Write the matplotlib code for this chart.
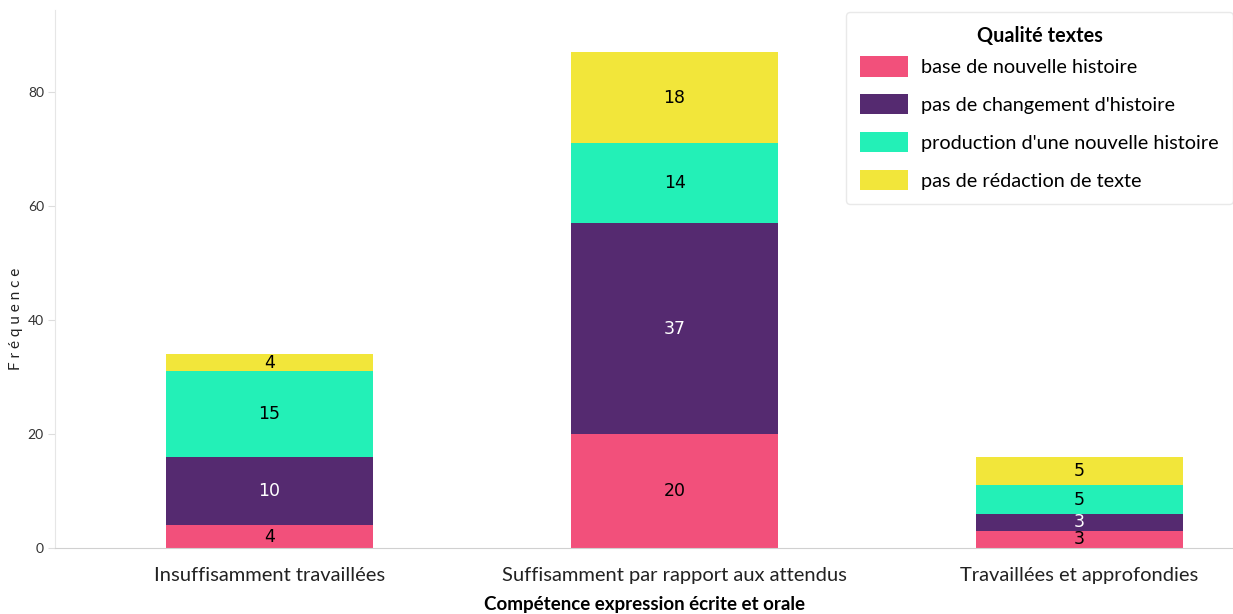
import numpy as np
import matplotlib
matplotlib.use("Agg")
import matplotlib.pyplot as plt

categories = ["Insuffisamment travaillées", "Suffisamment par rapport aux attendus",
              "Travaillées et approfondies"]
series_names = ["base de nouvelle histoire", "pas de changement d'histoire",
                "production d'une nouvelle histoire", "pas de rédaction de texte"]
# segment heights as drawn in the chart
base_nouvelle = [4, 20, 3]
pas_changement = [12, 37, 3]
production = [15, 14, 5]
pas_redaction = [3, 16, 5]
# labels printed on the segments (they differ from the heights in places)
lbl_base = ["4", "20", "3"]
lbl_changement = ["10", "37", "3"]
lbl_production = ["15", "14", "5"]
lbl_redaction = ["4", "18", "5"]

colors = ["#F2507B", "#552A70", "#23F0B7", "#F2E63A"]
text_colors = ["black", "white", "black", "black"]

plt.rcParams["font.family"] = ["Lato", "DejaVu Sans"]

fig = plt.figure(figsize=(12.33, 6.14), dpi=100)
ax = fig.add_axes([55 / 1233, 66 / 614, 1178 / 1233, 538 / 614])

x = np.arange(len(categories))
bottom = np.zeros(len(categories))
for name, vals, lbls, col, tcol in zip(
        series_names,
        [base_nouvelle, pas_changement, production, pas_redaction],
        [lbl_base, lbl_changement, lbl_production, lbl_redaction],
        colors, text_colors):
    vals = np.array(vals, dtype=float)
    ax.bar(x, vals, 0.511, bottom=bottom, color=col, label=name)
    for xi, b, v, t in zip(x, bottom, vals, lbls):
        ax.text(xi, b + v / 2, t, ha="center", va="center",
                color=tcol, fontsize=12.5, family="DejaVu Sans")
    bottom += vals

ax.set_xlim(-0.53, 2.379)
ax.set_ylim(0, 94.4)
ax.set_yticks([0, 20, 40, 60, 80])
ax.set_xticks(x)
ax.set_xticklabels(categories, fontsize=14.5)
ax.tick_params(axis="x", length=0, pad=14, colors="#222222")
ax.tick_params(axis="y", length=5, width=0.8, color="#dddddd", labelsize=10,
               labelcolor="#333333", pad=3)
for s in ["top", "right"]:
    ax.spines[s].set_visible(False)
ax.spines["left"].set_color("#e6e6e6")
ax.spines["bottom"].set_color("#d0d0d0")

ax.set_xlabel("Compétence expression écrite et orale", fontsize=13.5,
              fontweight="bold", labelpad=8)
ax.set_ylabel("F r é q u e n c e", fontsize=11, color="#222222")
ax.yaxis.set_label_coords(-0.027, 0.425)

leg = ax.legend(title="Qualité textes", loc="upper right",
                bbox_to_anchor=(1.0, 0.996), fontsize=14.3, title_fontsize=14.3,
                frameon=True, handlelength=2.4, handleheight=1.2,
                handletextpad=0.65, labelspacing=0.88, borderpad=0.72,
                borderaxespad=0, edgecolor="#e4e4e4", fancybox=True)
leg.get_title().set_fontweight("bold")
leg.get_frame().set_linewidth(1.0)
# tighten the gap between the legend title and the first entry
leg._legend_box.sep = 7

fig.savefig("out.png", dpi=100)
